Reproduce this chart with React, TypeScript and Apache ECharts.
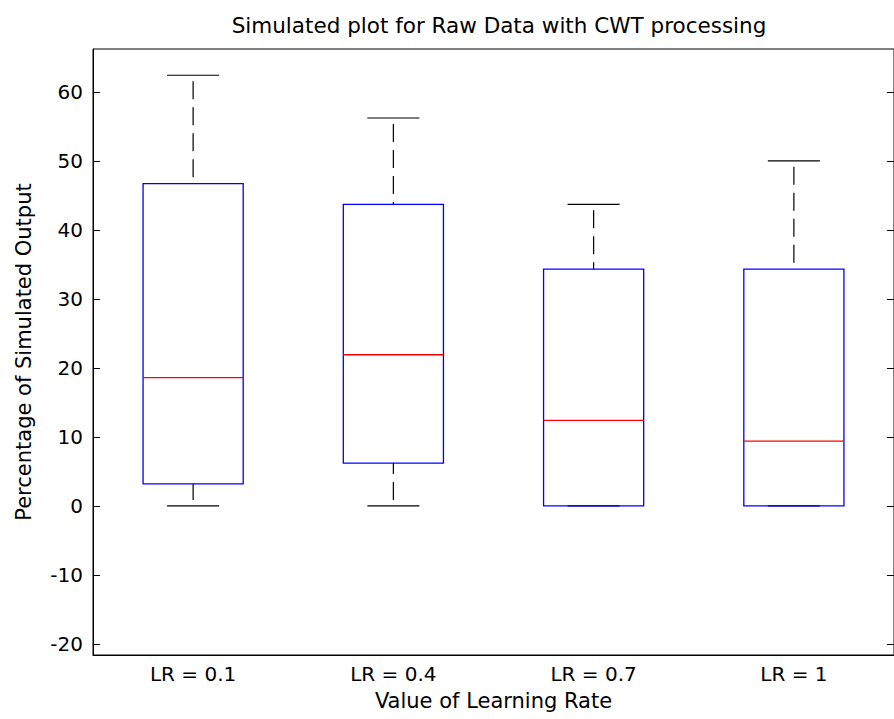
import React, { useEffect, useRef } from "react";
import * as echarts from "echarts";

const categories = ["LR = 0.1", "LR = 0.4", "LR = 0.7", "LR = 1"];
const whiskerLow = [0, 0, 0, 0];
const q1 = [3.2, 6.2, 0, 0];
const median = [18.6, 21.9, 12.4, 9.4];
const q3 = [46.7, 43.7, 34.3, 34.3];
const whiskerHigh = [62.4, 56.2, 43.7, 50];
const yTicks = [-20, -10, 0, 10, 20, 30, 40, 50, 60];

const FONT = "DejaVu Sans";

export default function App() {
  const ref = useRef<HTMLDivElement>(null);
  useEffect(() => {
    document.body.style.margin = "0";
    const chart = echarts.init(ref.current!, null, { renderer: "svg" });
    const data = categories.map((_, i) => [i, whiskerLow[i], q1[i], median[i], q3[i], whiskerHigh[i]]);
    chart.setOption({
      animation: false,
      backgroundColor: "#fff",
      title: {
        text: "Simulated plot for Raw Data with CWT processing",
        left: 494,
        top: 9,
        textAlign: "center",
        textStyle: { fontFamily: FONT, fontSize: 21.5, fontWeight: "normal", color: "#000" },
      },
      grid: {
        left: 93,
        top: 49,
        width: 804,
        height: 606,
        show: true,
        borderColor: "#000",
        borderWidth: 1,
        containLabel: false,
      },
      xAxis: {
        type: "category",
        data: categories,
        boundaryGap: true,
        axisLine: { show: true, onZero: false, lineStyle: { color: "#000", width: 1 } },
        axisTick: { show: false },
        axisLabel: { color: "#000", fontFamily: FONT, fontSize: 20, margin: 9 },
        splitLine: { show: false },
        name: "Value of Learning Rate",
        nameLocation: "middle",
        nameGap: 35,
        nameTextStyle: { color: "#000", fontFamily: FONT, fontSize: 21 },
      },
      yAxis: [
        {
          type: "value",
          min: -21.6,
          max: 66.2,
          axisLine: { show: true, onZero: false, lineStyle: { color: "#000", width: 1 } },
          axisTick: { show: true, inside: true, length: 7, customValues: yTicks, lineStyle: { color: "#000" } },
          axisLabel: { color: "#000", fontFamily: FONT, fontSize: 20, margin: 10, customValues: yTicks },
          splitLine: { show: false },
          name: "Percentage of Simulated Output",
          nameLocation: "middle",
          nameGap: 59,
          nameTextStyle: { color: "#000", fontFamily: FONT, fontSize: 21 },
        },
        {
          type: "value",
          position: "right",
          min: -21.6,
          max: 66.2,
          axisLine: { show: true, onZero: false, lineStyle: { color: "#000", width: 1 } },
          axisTick: { show: true, inside: true, length: 7, customValues: yTicks, lineStyle: { color: "#000" } },
          axisLabel: { show: false },
          splitLine: { show: false },
        },
      ],
      series: [
        {
          type: "custom",
          xAxisIndex: 0,
          yAxisIndex: 0,
          data,
          renderItem: (params: any, api: any) => {
            const idx = api.value(0);
            const lo = api.value(1);
            const b1 = api.value(2);
            const md = api.value(3);
            const b3 = api.value(4);
            const hi = api.value(5);
            const band = api.size([1, 0])[0];
            const half = band * 0.25;
            const capHalf = band * 0.13;
            const pLo = api.coord([idx, lo]);
            const pB1 = api.coord([idx, b1]);
            const pMd = api.coord([idx, md]);
            const pB3 = api.coord([idx, b3]);
            const pHi = api.coord([idx, hi]);
            const cx = pLo[0];
            const dashStyle = { stroke: "#000", lineWidth: 1.2, lineDash: [18, 8], lineDashOffset: 20, fill: null };
            const children: any[] = [
              { type: "line", shape: { x1: cx, y1: pHi[1], x2: cx, y2: pB3[1] }, style: dashStyle },
              { type: "line", shape: { x1: cx, y1: pLo[1], x2: cx, y2: pB1[1] }, style: dashStyle },
              { type: "line", shape: { x1: cx - capHalf, y1: pHi[1], x2: cx + capHalf, y2: pHi[1] }, style: { stroke: "#000", lineWidth: 1.2 } },
              { type: "line", shape: { x1: cx - capHalf, y1: pLo[1], x2: cx + capHalf, y2: pLo[1] }, style: { stroke: "#000", lineWidth: 1.2 } },
              {
                type: "rect",
                shape: { x: cx - half, y: pB3[1], width: half * 2, height: pB1[1] - pB3[1] },
                style: { stroke: "#0000ff", lineWidth: 1.3, fill: "none" },
              },
              { type: "line", shape: { x1: cx - half, y1: pMd[1], x2: cx + half, y2: pMd[1] }, style: { stroke: "#ff0000", lineWidth: 1.3 } },
            ];
            return { type: "group", children };
          },
        },
      ],
    });
    return () => chart.dispose();
  }, []);
  return <div ref={ref} style={{ width: 894, height: 719 }} />;
}
